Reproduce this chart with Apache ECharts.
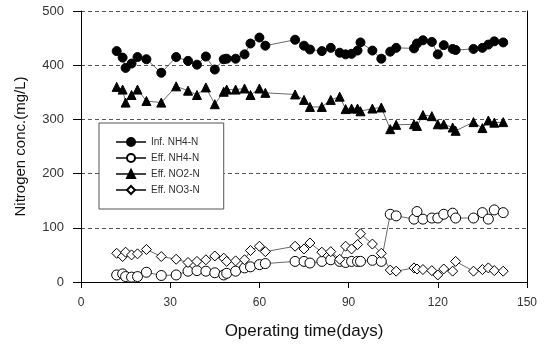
<!DOCTYPE html>
<html>
<head>
<meta charset="utf-8">
<script src="https://cdn.jsdelivr.net/npm/echarts@6/dist/echarts.min.js"></script>
<style>html,body{margin:0;padding:0;background:#fff;}#c{width:548px;height:348px;}</style>
</head>
<body>
<div id="c"></div>
<script>
const days = [12,14,15,17,19,22,27,32,36,39,42,45,48,49,52,55,57,60,62,72,75,77,81,84,87,89,91,93,94,98,101,104,106,112,113,115,118,120,122,125,126,132,135,137,139,142];
const infNH4 = [426,414,395,403,415,411,386,415,408,401,416,392,411,412,412,420,440,451,436,447,436,429,426,432,423,420,421,427,442,427,412,425,432,431,440,446,443,420,437,430,428,430,432,438,444,442];
const effNH4 = [13,15,10,9,10,18,12,13,20,21,20,17,13,16,20,26,28,32,34,38,38,35,38,41,38,36,38,38,38,40,38,125,122,116,130,116,118,118,125,127,118,118,128,116,133,128];
const effNO2 = [360,355,331,345,355,334,331,361,353,345,359,328,351,355,355,357,345,357,349,346,336,323,323,336,342,319,320,320,315,320,322,282,290,291,288,308,306,291,291,285,279,295,284,298,294,295];
const effNO3 = [53,47,55,50,52,60,47,42,36,38,41,48,44,38,39,41,58,66,56,66,61,72,55,56,42,66,61,69,89,70,53,22,20,26,24,23,21,13,24,20,38,20,23,26,21,20];
const seriesNames = ['Inf. NH4-N','Eff. NH4-N','Eff. NO2-N','Eff. NO3-N'];
const xTicks = [0,30,60,90,120,150];
const yTicks = [0,100,200,300,400,500];

function pairs(vals){ return days.map((d,i)=>[d, vals[i]]); }
const font = 'Liberation Sans, Arial, sans-serif';
function mk(name, vals, symbol, fill, size){
  return {
    name: name, type: 'line', data: pairs(vals), symbol: symbol, symbolSize: size,
    showSymbol: true,
    lineStyle: {color: '#444', width: 0.8},
    itemStyle: {color: fill, borderColor: '#000', borderWidth: 1},
    emphasis: {disabled: true}, animation: false, z: 3
  };
}
const chart = echarts.init(document.getElementById('c'), null, {renderer: 'canvas'});
chart.setOption({
  animation: false,
  backgroundColor: '#fff',
  grid: {left: 81, right: 21, top: 11, bottom: 66, containLabel: false},
  legend: {
    orient: 'vertical', left: 99, top: 123,
    padding: [14, 24, 14, 16], itemGap: 6, itemWidth: 30, itemHeight: 10,
    borderColor: '#555', borderWidth: 1, backgroundColor: '#fff',
    textStyle: {fontFamily: font, fontSize: 10, color: '#333'},
    data: seriesNames
  },
  xAxis: {
    type: 'value', min: 0, max: 150, interval: 30,
    name: 'Operating time(days)', nameLocation: 'middle', nameGap: 41,
    nameTextStyle: {fontFamily: font, fontSize: 17, color: '#111'},
    axisLine: {show: true, onZero: false, lineStyle: {color: '#000', width: 1}},
    axisTick: {show: true, length: 6, lineStyle: {color: '#000'}},
    axisLabel: {margin: 15, fontFamily: font, fontSize: 12, color: '#333',
      formatter: v => xTicks.includes(v) ? String(v) : ''},
    splitLine: {show: false}
  },
  yAxis: [{
    type: 'value', min: 0, max: 500, interval: 100,
    name: 'Nitrogen conc.(mg/L)', nameLocation: 'middle', nameGap: 53,
    nameTextStyle: {fontFamily: font, fontSize: 15, color: '#111'},
    axisLine: {show: true, lineStyle: {color: '#000', width: 1}},
    axisTick: {show: true, length: 8, lineStyle: {color: '#000'}},
    axisLabel: {margin: 17, fontFamily: font, fontSize: 13, color: '#333',
      formatter: v => yTicks.includes(v) ? String(v) : ''},
    splitLine: {show: true, lineStyle: {color: '#555', width: 1, type: [4, 3]}}
  }, {
    type: 'value', min: 0, max: 500, interval: 100, position: 'right',
    axisLine: {show: true, lineStyle: {color: '#000', width: 1}},
    axisTick: {show: false}, axisLabel: {show: false}, splitLine: {show: false}
  }],
  series: [
    mk(seriesNames[0], infNH4, 'circle', '#000', 9),
    mk(seriesNames[1], effNH4, 'circle', '#fff', 10),
    mk(seriesNames[2], effNO2, 'triangle', '#000', 9),
    mk(seriesNames[3], effNO3, 'diamond', '#fff', 10)
  ]
});
</script>
</body>
</html>
